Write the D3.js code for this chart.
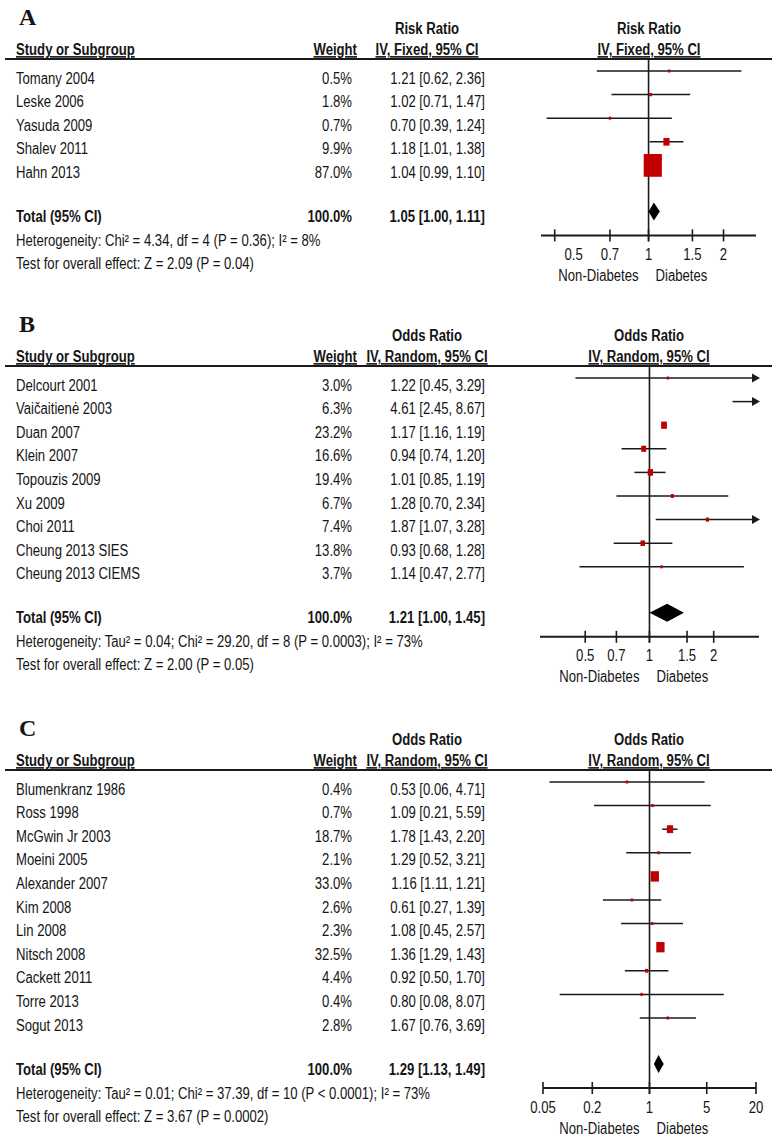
<!DOCTYPE html>
<html>
<head>
<meta charset="utf-8">
<script src="https://cdn.jsdelivr.net/npm/d3@7"></script>
<style>
body { margin: 0; background: #fff; }
text { font-family: "Liberation Sans", Arial, sans-serif; font-size: 16px; fill: #151515; }
.bold { font-weight: bold; }
.letter { font-family: "Liberation Serif", serif; font-weight: bold; font-size: 24px; }
</style>
</head>
<body>
<svg id="chart" width="777" height="1139"></svg>
<script>
"use strict";

/** Panel A: risk ratio, fixed effect */
var studiesA = ["Tomany 2004", "Leske 2006", "Yasuda 2009", "Shalev 2011", "Hahn 2013"];
var weightsA = [0.5, 1.8, 0.7, 9.9, 87.0];
var estA = [1.21, 1.02, 0.70, 1.18, 1.04];
var lowA = [0.62, 0.71, 0.39, 1.01, 0.99];
var highA = [2.36, 1.47, 1.24, 1.38, 1.10];
var totalA = [1.05, 1.00, 1.11];
var hetA = "Heterogeneity: Chi² = 4.34, df = 4 (P = 0.36); I² = 8%";
var testA = "Test for overall effect: Z = 2.09 (P = 0.04)";
var domainA = [0.37, 2.7];
var tickMarksA = [0.42, 0.7, 1, 1.5, 2];
var tickValuesA = [0.5, 0.7, 1, 1.5, 2];
var tickLabelsA = ["0.5", "0.7", "1", "1.5", "2"];

/** Panel B: odds ratio, random effects */
var studiesB = ["Delcourt 2001", "Vaičaitienė 2003", "Duan 2007", "Klein 2007", "Topouzis 2009",
    "Xu 2009", "Choi 2011", "Cheung 2013 SIES", "Cheung 2013 CIEMS"];
var weightsB = [3.0, 6.3, 23.2, 16.6, 19.4, 6.7, 7.4, 13.8, 3.7];
var estB = [1.22, 4.61, 1.17, 0.94, 1.01, 1.28, 1.87, 0.93, 1.14];
var lowB = [0.45, 2.45, 1.16, 0.74, 0.85, 0.70, 1.07, 0.68, 0.47];
var highB = [3.29, 8.67, 1.19, 1.20, 1.19, 2.34, 3.28, 1.28, 2.77];
var totalB = [1.21, 1.00, 1.45];
var hetB = "Heterogeneity: Tau² = 0.04; Chi² = 29.20, df = 8 (P = 0.0003); I² = 73%";
var testB = "Test for overall effect: Z = 2.00 (P = 0.05)";
var domainB = [0.307, 3.26];
var tickMarksB = [0.5, 0.7, 1, 1.5, 2];
var tickValuesB = [0.5, 0.7, 1, 1.5, 2];
var tickLabelsB = ["0.5", "0.7", "1", "1.5", "2"];

/** Panel C: odds ratio, random effects */
var studiesC = ["Blumenkranz 1986", "Ross 1998", "McGwin Jr 2003", "Moeini 2005", "Alexander 2007",
    "Kim 2008", "Lin 2008", "Nitsch 2008", "Cackett 2011", "Torre 2013", "Sogut 2013"];
var weightsC = [0.4, 0.7, 18.7, 2.1, 33.0, 2.6, 2.3, 32.5, 4.4, 0.4, 2.8];
var estC = [0.53, 1.09, 1.78, 1.29, 1.16, 0.61, 1.08, 1.36, 0.92, 0.80, 1.67];
var lowC = [0.06, 0.21, 1.43, 0.52, 1.11, 0.27, 0.45, 1.29, 0.50, 0.08, 0.76];
var highC = [4.71, 5.59, 2.20, 3.21, 1.21, 1.39, 2.57, 1.43, 1.70, 8.07, 3.69];
var totalC = [1.29, 1.13, 1.49];
var hetC = "Heterogeneity: Tau² = 0.01; Chi² = 37.39, df = 10 (P < 0.0001); I² = 73%";
var testC = "Test for overall effect: Z = 3.67 (P = 0.0002)";
var domainC = [0.05, 20];
var tickMarksC = [0.05, 0.2, 1, 5, 20];
var tickValuesC = [0.05, 0.2, 1, 5, 20];
var tickLabelsC = ["0.05", "0.2", "1", "5", "20"];

var RED = "#c00000";
var INK = "#1a1a1a";
var ROW = 23.6;
var NARROW = 0.82; // no narrow font installed, squeeze the sans instead

var panels = [
    { letter: "A", measure: "Risk Ratio", method: "IV, Fixed, 95% CI", top: 59, boxK: 1.95,
      studies: studiesA, weights: weightsA, est: estA, low: lowA, high: highA, total: totalA,
      het: hetA, test: testA, domain: domainA, range: [541, 756],
      tickMarks: tickMarksA, tickValues: tickValuesA, tickLabels: tickLabelsA },
    { letter: "B", measure: "Odds Ratio", method: "IV, Random, 95% CI", top: 366, boxK: 1.2,
      studies: studiesB, weights: weightsB, est: estB, low: lowB, high: highB, total: totalB,
      het: hetB, test: testB, domain: domainB, range: [540, 759],
      tickMarks: tickMarksB, tickValues: tickValuesB, tickLabels: tickLabelsB },
    { letter: "C", measure: "Odds Ratio", method: "IV, Random, 95% CI", top: 770, boxK: 1.45,
      studies: studiesC, weights: weightsC, est: estC, low: lowC, high: highC, total: totalC,
      het: hetC, test: testC, domain: domainC, range: [543, 756],
      tickMarks: tickMarksC, tickValues: tickValuesC, tickLabels: tickLabelsC }
];

var fmt = d3.format(".2f");
var fmtW = d3.format(".1f");

function ciText(e, l, h) {
    return fmt(e) + " [" + fmt(l) + ", " + fmt(h) + "]";
}

function boxW(p, w) {
    return Math.max(2.4, p.boxK * Math.sqrt(w));
}

function drawPanel(svg, p) {
    var g = svg.append("g").attr("class", "panel-" + p.letter);
    var L = p.top;
    var x = d3.scaleLog().domain(p.domain).range(p.range);
    var x1 = x(1);
    var n = p.studies.length;
    var rowY = function(i) { return L + 19 + i * ROW; };
    var totalY = rowY(n - 1) + 44;
    var axisY = totalY + 19;

    // panel letter and headers
    g.append("text").attr("class", "letter").attr("x", 19).attr("y", L - 34).text(p.letter);
    [427, 649].forEach(function(cx) {
        g.append("text").attr("class", "bold").attr("x", cx).attr("y", L - 25)
            .attr("text-anchor", "middle").text(p.measure);
        g.append("text").attr("class", "bold").attr("x", cx).attr("y", L - 4)
            .attr("text-anchor", "middle").style("text-decoration", "underline").text(p.method);
    });
    g.append("text").attr("class", "bold").attr("x", 16).attr("y", L - 4)
        .style("text-decoration", "underline").text("Study or Subgroup");
    g.append("text").attr("class", "bold").attr("x", 357).attr("y", L - 4)
        .attr("text-anchor", "end").style("text-decoration", "underline").text("Weight");
    g.append("line").attr("x1", 5).attr("x2", 772).attr("y1", L).attr("y2", L)
        .attr("stroke", INK).attr("stroke-width", 2);

    // line of no effect
    g.append("line").attr("x1", x1).attr("x2", x1).attr("y1", L).attr("y2", axisY + 6)
        .attr("stroke", INK).attr("stroke-width", 1.6);

    // study rows
    var rows = g.selectAll("g.row")
        .data(p.studies.map(function(s, i) {
            return { name: s, w: p.weights[i], e: p.est[i], l: p.low[i], h: p.high[i], y: rowY(i) };
        }))
        .enter().append("g")
        .attr("class", "row");

    rows.append("text").attr("x", 16).attr("y", function(d) { return d.y + 5.7; })
        .text(function(d) { return d.name; });
    rows.append("text").attr("x", 352).attr("y", function(d) { return d.y + 5.7; })
        .attr("text-anchor", "end").text(function(d) { return fmtW(d.w) + "%"; });
    rows.append("text").attr("x", 485).attr("y", function(d) { return d.y + 5.7; })
        .attr("text-anchor", "end").text(function(d) { return ciText(d.e, d.l, d.h); });

    var dmin = p.domain[0], dmax = p.domain[1];
    rows.append("line")
        .attr("x1", function(d) { return x(Math.max(d.l, dmin)); })
        .attr("x2", function(d) { return d.h > dmax ? x(dmax) - 3 : x(d.h); })
        .attr("y1", function(d) { return d.y - 7; })
        .attr("y2", function(d) { return d.y - 7; })
        .attr("stroke", INK).attr("stroke-width", 1.5);

    rows.filter(function(d) { return d.h > dmax; })
        .append("path")
        .attr("d", function(d) {
            var xe = x(dmax), ym = d.y - 7;
            return "M" + (xe - 7) + "," + (ym - 4.5) + "L" + (xe + 1) + "," + ym + "L" + (xe - 7) + "," + (ym + 4.5) + "Z";
        })
        .attr("fill", INK);

    rows.filter(function(d) { return d.e >= dmin && d.e <= dmax; })
        .append("rect")
        .attr("x", function(d) { return x(d.e) - boxW(p, d.w) / 2; })
        .attr("width", function(d) { return boxW(p, d.w); })
        .attr("y", function(d) { return d.y - 7 - Math.max(3, 1.25 * boxW(p, d.w)) / 2; })
        .attr("height", function(d) { return Math.max(3, 1.25 * boxW(p, d.w)); })
        .attr("fill", RED);

    // total row
    g.append("text").attr("class", "bold").attr("x", 16).attr("y", totalY + 5.7).text("Total (95% CI)");
    g.append("text").attr("class", "bold").attr("x", 352).attr("y", totalY + 5.7)
        .attr("text-anchor", "end").text("100.0%");
    g.append("text").attr("class", "bold").attr("x", 485).attr("y", totalY + 5.7)
        .attr("text-anchor", "end").text(ciText(p.total[0], p.total[1], p.total[2]));
    var dy = totalY - 5;
    g.append("path")
        .attr("d", "M" + x(p.total[1]) + "," + dy + "L" + x(p.total[0]) + "," + (dy - 9) +
            "L" + x(p.total[2]) + "," + dy + "L" + x(p.total[0]) + "," + (dy + 9) + "Z")
        .attr("fill", "#000");

    g.append("text").attr("x", 16).attr("y", totalY + 24 + 5.7).text(p.het);
    g.append("text").attr("x", 16).attr("y", totalY + 47 + 5.7).text(p.test);

    // axis
    g.append("line").attr("x1", p.range[0]).attr("x2", p.range[1]).attr("y1", axisY).attr("y2", axisY)
        .attr("stroke", INK).attr("stroke-width", 2);
    g.selectAll("line.tick").data(p.tickMarks).enter().append("line")
        .attr("class", "tick")
        .attr("x1", function(d) { return x(d); }).attr("x2", function(d) { return x(d); })
        .attr("y1", axisY - 6).attr("y2", axisY + 6)
        .attr("stroke", INK).attr("stroke-width", 1.6);
    g.selectAll("text.ticklabel").data(p.tickValues).enter().append("text")
        .attr("class", "ticklabel")
        .attr("x", function(d) { return x(d); }).attr("y", axisY + 19 + 5.7)
        .attr("text-anchor", "middle")
        .text(function(d, i) { return p.tickLabels[i]; });
    g.append("text").attr("x", x1 - 10).attr("y", axisY + 40 + 5.7)
        .attr("text-anchor", "end").text("Non-Diabetes");
    g.append("text").attr("x", x1 + 7).attr("y", axisY + 40 + 5.7).text("Diabetes");
}

var svg = d3.select("#chart");
panels.forEach(function(p) {
    drawPanel(svg, p);
});

/** Squeeze every label horizontally round its own anchor point */
svg.selectAll("text:not(.letter)")
    .attr("transform", function() {
        var tx = +this.getAttribute("x"), ty = +this.getAttribute("y");
        return "translate(" + tx + "," + ty + ") scale(" + NARROW + ",1) translate(" + (-tx) + "," + (-ty) + ")";
    });
</script>
</body>
</html>
